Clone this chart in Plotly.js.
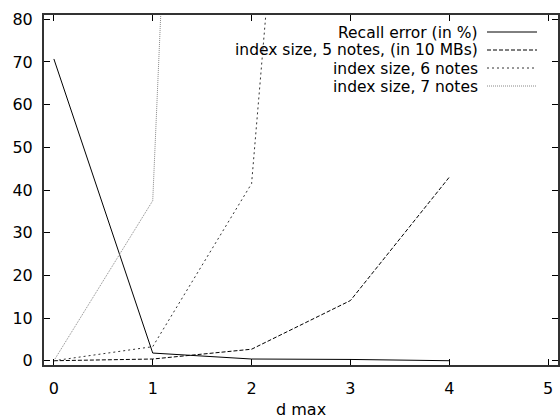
<!DOCTYPE html>
<html>
<head>
<meta charset="utf-8">
<script src="https://cdn.plot.ly/plotly-3.0.1.min.js"></script>
<style>html,body{margin:0;padding:0;background:#fff;}#chart{width:560px;height:418px;}</style>
</head>
<body>
<div id="chart"></div>
<script>
// ---- data ----
const dmax = [0, 1, 2, 3, 4];
const recallError = [70.7, 1.8, 0.4, 0.3, 0.0];
const size5 = [0, 0.4, 2.7, 14.1, 43.0];
const dmax6 = [0, 1, 2, 3];
const size6 = [0, 3.3, 41.5, 316];
const dmax7 = [0, 1, 2];
const size7 = [0, 37.5, 575];
const seriesNames = ["Recall error (in %)", "index size, 5 notes, (in 10 MBs)", "index size, 6 notes", "index size, 7 notes"];
const xTicks = [0, 1, 2, 3, 4, 5];
const yTicks = [0, 10, 20, 30, 40, 50, 60, 70, 80];

// ---- styles ----
const FONT = 'DejaVu Sans, Liberation Sans, Arial, sans-serif';
const styles = [
  {color: '#000', dash: 'solid', width: 1},
  {color: '#000', dash: '4px,2px', width: 1},
  {color: '#333', dash: '2px,3px', width: 1},
  {color: '#888', dash: '1px,1px', width: 1}
];
const xs = [dmax, dmax, dmax6, dmax7];
const ys = [recallError, size5, size6, size7];

const traces = ys.map((y, i) => ({
  x: xs[i], y: y, type: 'scatter', mode: 'lines', name: seriesNames[i],
  line: styles[i], showlegend: false
}));

const W = 560, H = 418, L = 44, R = 2, T = 15, B = 53;
const pw = W - L - R, ph = H - T - B;
const px2x = p => (p - L) / pw;
const px2y = p => (H - B - p) / ph;

const legendY = [32, 50, 68, 86];
const annotations = seriesNames.map((n, i) => ({
  xref: 'paper', yref: 'paper', x: px2x(479), y: px2y(legendY[i]),
  xanchor: 'right', yanchor: 'middle', text: n, showarrow: false,
  height: 17, borderpad: 0,
  font: {family: FONT, size: 15.5, color: '#000'}
}));
annotations.push({
  xref: 'paper', yref: 'paper', x: 0.5, y: px2y(409), xanchor: 'center', yanchor: 'middle',
  text: 'd max', showarrow: false,
  font: {family: FONT, size: 16, color: '#000'}
});
const shapes = styles.map((s, i) => ({
  type: 'line', xref: 'paper', yref: 'paper',
  x0: px2x(487), x1: px2x(537), y0: px2y(legendY[i]), y1: px2y(legendY[i]),
  line: {color: s.color, dash: s.dash, width: s.width}
}));

const axisCommon = {
  showline: true, linecolor: '#333', linewidth: 2, mirror: 'ticks',
  ticks: 'inside', ticklen: 6, tickcolor: '#000', tickwidth: 1,
  showgrid: false, zeroline: false,
  tickfont: {family: FONT, size: 16, color: '#000'}
};

const layout = {
  width: W, height: H,
  margin: {l: L, r: R, t: T, b: B},
  paper_bgcolor: '#fff', plot_bgcolor: '#fff',
  xaxis: Object.assign({}, axisCommon, {range: [-0.1, 5.1], tickvals: xTicks, ticktext: xTicks.map(String), ticklabelstandoff: 8}),
  yaxis: Object.assign({}, axisCommon, {range: [-1, 81], tickvals: yTicks, ticktext: yTicks.map(String), ticklabelstandoff: 6}),
  annotations: annotations,
  shapes: shapes,
  showlegend: false
};

Plotly.newPlot('chart', traces, layout, {displayModeBar: false, staticPlot: true});
</script>
</body>
</html>
